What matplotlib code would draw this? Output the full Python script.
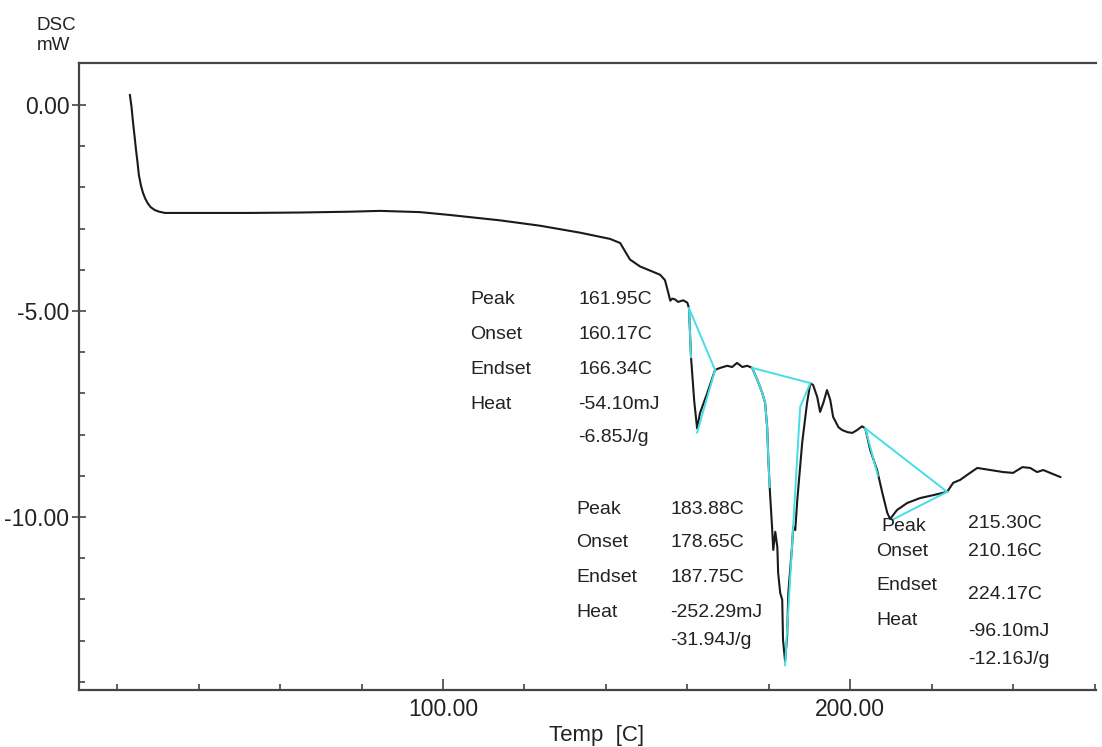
import matplotlib
matplotlib.use("Agg")
import matplotlib.pyplot as plt
import numpy as np

plt.rcParams["font.family"] = ["Liberation Sans", "DejaVu Sans"]

# DSC trace (temperature in C, heat flow in mW)
TEMP = [23.1, 23.5, 23.8, 24.2, 24.6, 25.0, 25.3, 25.8, 26.3, 26.9, 27.5, 28.2, 29.2,
        30.3, 31.7, 40.3, 52.6, 64.9, 77.1, 84.5,
        94.3, 101.7, 114.0, 123.8, 133.7, 141.0, 143.5, 144.7, 145.9, 148.4, 153.3,
        154.5, 155.3, 155.8, 156.3, 157.0, 157.7, 159.0, 160.0, 160.4, 160.9, 161.7,
        162.4, 163.1, 164.9, 166.8, 168.1, 169.8, 171.0, 172.2, 173.5, 174.7, 175.9,
        177.1, 178.4, 179.1, 179.6, 179.9, 180.3, 180.8, 181.1, 181.6, 182.1, 182.3,
        182.8, 183.3, 183.5, 184.0, 184.5, 184.8, 185.7, 186.0, 186.5, 187.0, 188.2,
        189.4, 190.2, 190.9, 191.9, 192.6, 193.4, 194.3, 195.1, 195.8, 197.1, 198.0,
        199.3, 200.5, 201.7, 202.9, 203.7, 204.9, 206.6, 207.9, 209.1, 209.8, 211.5,
        214.0, 217.2, 220.4, 223.8, 225.3, 227.0, 228.7, 231.2, 234.4, 237.6, 240.0,
        242.3, 244.2, 245.9, 247.4, 249.1, 251.6]
DSC = [0.24, -0.05, -0.36, -0.72, -1.09, -1.42, -1.70, -1.95, -2.13, -2.28, -2.39,
       -2.48, -2.55, -2.59, -2.62, -2.62, -2.62, -2.61,
       -2.59, -2.57, -2.60, -2.67, -2.80, -2.93, -3.10, -3.25, -3.35, -3.55, -3.75,
       -3.92, -4.12, -4.25, -4.55, -4.75, -4.70, -4.72, -4.78, -4.74, -4.80, -4.93,
       -6.12, -7.20, -7.85, -7.48, -6.99, -6.43, -6.38, -6.33, -6.36, -6.26, -6.36,
       -6.33, -6.38, -6.65, -6.99, -7.23, -7.82, -8.62, -9.42, -10.24, -10.80, -10.36,
       -10.73, -11.36, -11.84, -12.01, -12.99, -13.50, -12.91, -11.84, -10.73, -10.24,
       -10.32, -9.59, -8.20, -7.23, -6.75, -6.80, -7.09, -7.45, -7.23, -6.92, -7.16,
       -7.57, -7.82, -7.89, -7.94, -7.96, -7.89, -7.80, -7.85, -8.37, -8.86, -9.42,
       -9.90, -10.05, -9.83, -9.66, -9.54, -9.47, -9.39, -9.17, -9.10, -8.98, -8.81,
       -8.86, -8.91, -8.93, -8.79, -8.81, -8.91, -8.86, -8.93, -9.03]

# peak analysis construction lines (cyan)
CYAN_LINES = [
    ([160.4, 166.8], [-4.93, -6.43]),
    ([160.4, 160.9], [-4.93, -6.12]),
    ([162.4, 166.8], [-7.95, -6.43]),
    ([175.9, 190.2], [-6.38, -6.75]),
    ([175.9, 177.1, 178.4, 179.1, 179.6, 179.9, 180.2], [-6.38, -6.65, -6.99, -7.23, -7.82, -8.62, -9.27]),
    ([184.0, 187.7, 190.2], [-13.6, -7.33, -6.75]),
    ([203.7, 223.8], [-7.85, -9.39]),
    ([210.3, 223.8], [-10.07, -9.39]),
    ([203.7, 206.8], [-7.85, -9.0]),
]

LABELS = ["Peak", "Onset", "Endset", "Heat"]
PEAK1 = ["161.95C", "160.17C", "166.34C", "-54.10mJ", "-6.85J/g"]
PEAK2 = ["183.88C", "178.65C", "187.75C", "-252.29mJ", "-31.94J/g"]
PEAK3 = ["215.30C", "210.16C", "224.17C", "-96.10mJ", "-12.16J/g"]

# text anchors (label x, label rows, value x, value rows)
BLOCKS = [
    (106.6, [-4.73, -5.56, -6.41, -7.26], 133.2, [-4.73, -5.56, -6.41, -7.26, -8.06], PEAK1),
    (132.7, [-9.83, -10.63, -11.46, -12.31], 155.8, [-9.83, -10.63, -11.46, -12.31, -13.01], PEAK2),
    (206.4, [-10.22, -10.85, -11.67, -12.52], 229.0, [-10.17, -10.85, -11.87, -12.77, -13.45], PEAK3),
]

fig = plt.figure(figsize=(11.02, 7.47), dpi=100)
ax = fig.add_axes([0.0717, 0.0763, 0.9230, 0.8394])

ax.plot(TEMP, DSC, color="#1a1a1a", lw=1.5, zorder=2)
for xs, ys in CYAN_LINES:
    ax.plot(xs, ys, color="#45dde6", lw=1.4, zorder=3)

for lx, lrows, vx, vrows, vals in BLOCKS:
    for i, (lab, ly) in enumerate(zip(LABELS, lrows)):
        x = lx + 1.2 if (i == 0 and lx > 200) else lx
        ax.text(x, ly, lab, fontsize=14, va="center", ha="left", color="#222222")
    for val, vy in zip(vals, vrows):
        ax.text(vx, vy, val, fontsize=14, va="center", ha="left", color="#222222")

ax.set_xlim(10.6, 260.4)
ax.set_ylim(-14.2, 1.02)
ax.set_xticks([100, 200])
ax.set_xticklabels(["100.00", "200.00"])
ax.set_xticks([20, 40, 60, 80, 120, 140, 160, 180, 220, 240, 260], minor=True)
ax.set_yticks([0, -5, -10])
ax.set_yticklabels(["0.00", "-5.00", "-10.00"])
ax.set_yticks([v for v in range(-14, 1) if v % 5 != 0], minor=True)

for side in ["left", "bottom", "top"]:
    ax.spines[side].set_color("#444444")
    ax.spines[side].set_linewidth(1.6)
ax.spines["right"].set_visible(False)

ax.tick_params(axis="x", which="major", direction="in", length=8, width=1.2,
               labelsize=16.5, pad=6, colors="#444444", labelcolor="#222222")
ax.tick_params(axis="x", which="minor", direction="in", length=4, width=1.2, colors="#444444")
ax.tick_params(axis="y", which="major", direction="inout", length=10, width=1.2,
               labelsize=16.5, pad=2, colors="#444444", labelcolor="#222222")
ax.tick_params(axis="y", which="minor", direction="in", length=4, width=1.2, colors="#444444")
ax.tick_params(top=False, right=False, which="both")

fig.text(597 / 1102, 1 - 735 / 747, "Temp  [C]", fontsize=16, ha="center", va="center", color="#222222")
fig.text(37 / 1102, 1 - 25 / 747, "DSC", fontsize=13.5, ha="left", va="center", color="#222222")
fig.text(37 / 1102, 1 - 46 / 747, "mW", fontsize=13.5, ha="left", va="center", color="#222222")

fig.savefig("out.png", dpi=100)
